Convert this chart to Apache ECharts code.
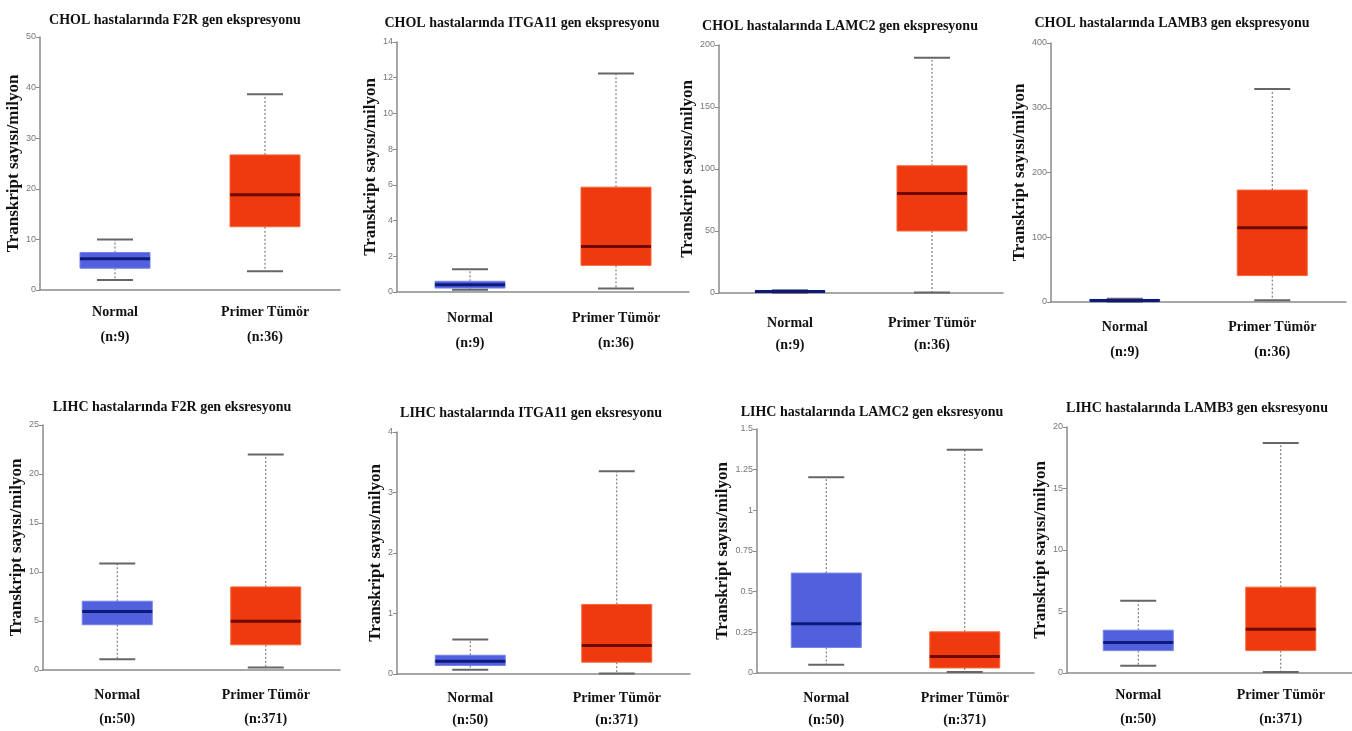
<!DOCTYPE html>
<html>
<head>
<meta charset="utf-8">
<script src="https://cdn.jsdelivr.net/npm/echarts@6/dist/echarts.min.js"></script>
<style>html,body{margin:0;padding:0;background:#fff}#c{width:1352px;height:731px}</style>
</head>
<body>
<div id="c"></div>
<script>
// ---- Data ----
const groups = ['Normal', 'Primer Tümör'];
const cholCounts = ['(n:9)', '(n:36)'];
const lihcCounts = ['(n:50)', '(n:371)'];
const yAxisTitle = 'Transkript sayısı/milyon';
const titles = [
  'CHOL hastalarında F2R gen ekspresyonu',
  'CHOL hastalarında ITGA11 gen ekspresyonu',
  'CHOL hastalarında LAMC2 gen ekspresyonu',
  'CHOL hastalarında LAMB3 gen ekspresyonu',
  'LIHC hastalarında F2R gen eksresyonu',
  'LIHC hastalarında ITGA11 gen eksresyonu',
  'LIHC hastalarında LAMC2 gen eksresyonu',
  'LIHC hastalarında LAMB3 gen eksresyonu'
];
// each: [min, Q1, median, Q3, max] for Normal, Primer Tümör
const cholF2R    = [[2.0, 4.3, 6.2, 7.4, 10.0], [3.7, 12.5, 18.8, 26.7, 38.7]];
const cholITGA11 = [[0.13, 0.22, 0.41, 0.6, 1.28], [0.2, 1.49, 2.55, 5.87, 12.23]];
const cholLAMC2  = [[0.3, 0.8, 1.2, 1.6, 2.2], [0.4, 50, 80.2, 102.6, 189.8]];
const cholLAMB3  = [[0.5, 1.5, 2.5, 4, 5], [2.6, 40.8, 114.6, 172.9, 328.8]];
const lihcF2R    = [[1.09, 4.62, 5.97, 7.02, 10.88], [0.26, 2.57, 4.98, 8.48, 22.0]];
const lihcITGA11 = [[0.07, 0.14, 0.21, 0.31, 0.57], [0.01, 0.195, 0.47, 1.15, 3.35]];
const lihcLAMC2  = [[0.051, 0.157, 0.302, 0.614, 1.204], [0.006, 0.031, 0.102, 0.253, 1.373]];
const lihcLAMB3  = [[0.59, 1.82, 2.47, 3.48, 5.88], [0.08, 1.82, 3.56, 6.98, 18.7]];
// y-axis scales: [max, interval]
const yScales = [[50, 10], [14, 2], [200, 50], [400, 100], [25, 5], [4, 1], [1.5, 0.25], [20, 5]];

const panelData = [cholF2R, cholITGA11, cholLAMC2, cholLAMB3, lihcF2R, lihcITGA11, lihcLAMC2, lihcLAMB3];
const panelCounts = [cholCounts, cholCounts, cholCounts, cholCounts, lihcCounts, lihcCounts, lihcCounts, lihcCounts];

// ---- Layout ----
const grids = [
  {left: 40,   top: 37,  width: 300, height: 253},
  {left: 397,  top: 42,  width: 292, height: 250},
  {left: 719,  top: 45,  width: 284, height: 248},
  {left: 1051, top: 43,  width: 295, height: 259},
  {left: 43,   top: 425, width: 297, height: 253},
  {left: 397,  top: 432, width: 293, height: 246},
  {left: 757,  top: 429, width: 277, height: 245},
  {left: 1067, top: 427, width: 295, height: 249}
];
const titlePos = [[170, 8], [517, 11], [835, 14], [1167, 11], [167, 395], [526, 401], [867, 400], [1192, 396]];
const nameGaps = [10, 12, 16, 18, 15, 11, 22, 11];
const labelMargins = [10, 14, 19, 13, 13, 13, 14, 10];
const labelLH = [25, 25, 22, 25, 24, 22, 22, 24];

const serif = '"Liberation Serif", "DejaVu Serif", serif';
const boxColors = [
  {fill: '#5160DD', border: '#7482EA', median: '#0D1A7A'},
  {fill: '#EF3A0F', border: '#F5673A', median: '#6E0A02'}
];

function renderBox(params, api) {
  const idx = api.value(0);
  const c = boxColors[idx];
  const vals = [1, 2, 3, 4, 5].map(i => api.coord([idx, api.value(i)]));
  const x = vals[0][0];
  const yMin = vals[0][1], yQ1 = vals[1][1], yMed = vals[2][1], yQ3 = vals[3][1], yMax = vals[4][1];
  const bw = 70, cw = 36;
  const whisk = {stroke: '#666', lineWidth: 1, lineDash: [2, 2]};
  const cap = {stroke: '#666', lineWidth: 2};
  return {
    type: 'group',
    children: [
      {type: 'line', shape: {x1: x, y1: yQ3, x2: x, y2: yMax}, style: whisk},
      {type: 'line', shape: {x1: x, y1: yQ1, x2: x, y2: yMin}, style: whisk},
      {type: 'line', shape: {x1: x - cw / 2, y1: yMax, x2: x + cw / 2, y2: yMax}, style: cap},
      {type: 'line', shape: {x1: x - cw / 2, y1: yMin, x2: x + cw / 2, y2: yMin}, style: cap},
      {type: 'rect', shape: {x: x - bw / 2, y: yQ3, width: bw, height: Math.max(yQ1 - yQ3, 1)},
        style: {fill: c.fill, stroke: c.border, lineWidth: 1}},
      {type: 'line', shape: {x1: x - bw / 2, y1: yMed, x2: x + bw / 2, y2: yMed},
        style: {stroke: c.median, lineWidth: 3}}
    ]
  };
}

const option = {
  backgroundColor: '#fff',
  animation: false,
  title: titles.map((t, i) => ({
    text: t, left: titlePos[i][0], top: titlePos[i][1], textAlign: 'center',
    textStyle: {fontFamily: serif, fontWeight: 'bold', fontSize: 14, color: '#111'}
  })),
  grid: grids,
  xAxis: grids.map((g, i) => ({
    type: 'category', gridIndex: i,
    data: groups.map((gname, k) => gname + '\n' + panelCounts[i][k]),
    axisLine: {lineStyle: {color: '#8a8a8a', width: 1.5}},
    axisTick: {show: false},
    axisLabel: {fontFamily: serif, fontWeight: 'bold', fontSize: 14, color: '#111',
      lineHeight: labelLH[i], margin: labelMargins[i], interval: 0}
  })),
  yAxis: grids.map((g, i) => ({
    type: 'value', gridIndex: i, min: 0, max: yScales[i][0], interval: yScales[i][1],
    name: yAxisTitle, nameLocation: 'middle', nameGap: nameGaps[i],
    nameTextStyle: {fontFamily: serif, fontWeight: 'bold', fontSize: 17, color: '#111'},
    axisLine: {show: true, lineStyle: {color: '#8a8a8a', width: 1.5}},
    axisTick: {show: true, length: 4, lineStyle: {color: '#8a8a8a'}},
    axisLabel: {fontFamily: '"Liberation Sans", Arial, sans-serif', fontSize: 9, color: '#777', margin: 4},
    splitLine: {show: false}
  })),
  series: panelData.map((d, i) => ({
    type: 'custom', xAxisIndex: i, yAxisIndex: i,
    renderItem: renderBox,
    encode: {x: 0, y: [1, 2, 3, 4, 5]},
    data: d.map((s, k) => [k].concat(s))
  }))
};

const chart = echarts.init(document.getElementById('c'), null, {renderer: 'canvas'});
chart.setOption(option);
</script>
</body>
</html>
